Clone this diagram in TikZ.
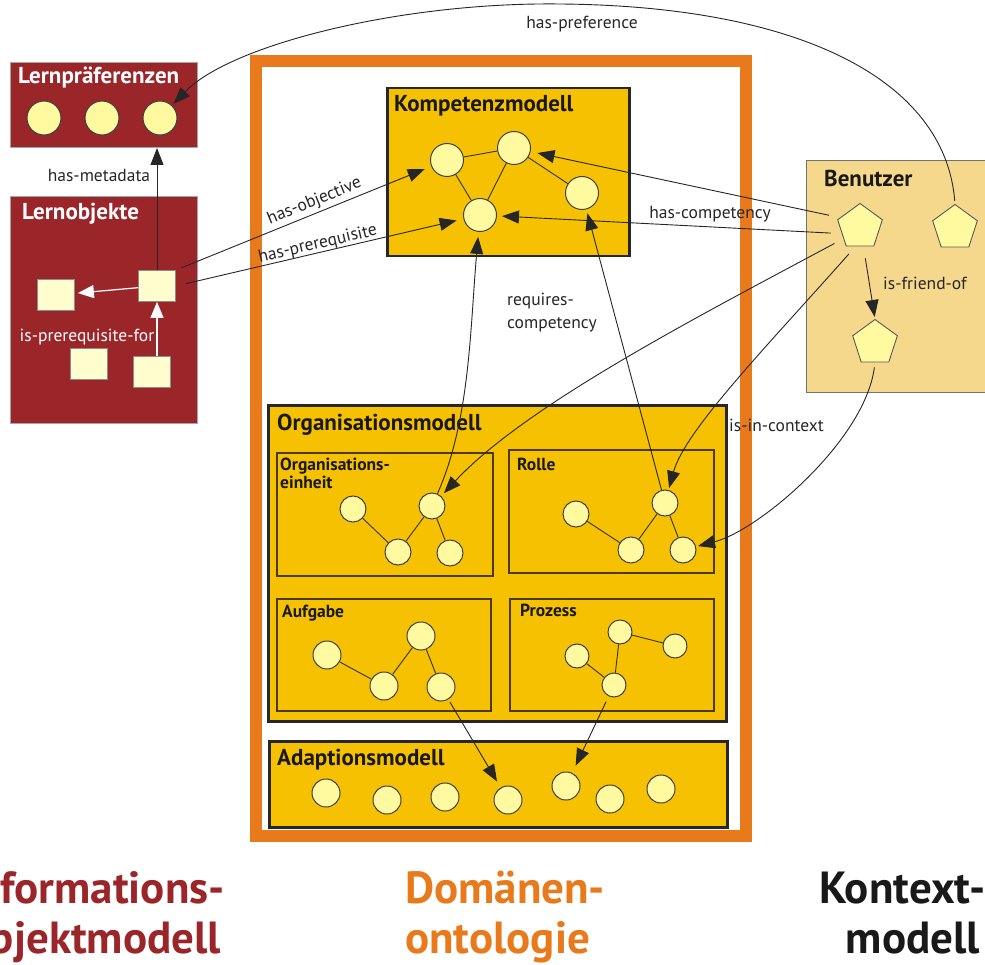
\documentclass[tikz,border=0pt]{standalone}
\usepackage{fontspec}
\setmainfont{PT Sans}
\usetikzlibrary{arrows.meta,shapes.geometric}

\definecolor{lomred}{RGB}{155,38,42}
\definecolor{domorange}{RGB}{232,122,28}
\definecolor{modelgold}{RGB}{246,193,0}
\definecolor{usertan}{RGB}{245,216,140}
\definecolor{dotfill}{RGB}{255,250,160}
\definecolor{sqfill}{RGB}{255,252,205}

\begin{document}
\begin{tikzpicture}[x=1pt, y=-1pt,
  lbl/.style={font=\fontsize{17.5}{20}\selectfont, inner sep=0pt, text=black!85},
  ttl/.style={font=\bfseries\fontsize{23}{26}\selectfont, anchor=base west, inner sep=0pt, text=black!90},
  subttl/.style={font=\bfseries\fontsize{17.5}{20}\selectfont, anchor=base west, inner sep=0pt, text=black!90},
  bigttl/.style={font=\bfseries\fontsize{45}{50}\selectfont, inner sep=0pt},
  ball/.style={circle, draw=black!75, line width=1pt, fill=dotfill, minimum size=#1, inner sep=0pt},
  ball/.default=26pt,
  pent/.style={regular polygon, regular polygon sides=5, minimum size=47pt, inner sep=0pt, draw=black!65, line width=0.9pt, fill=dotfill},
  sq/.style={rectangle, minimum width=37pt, minimum height=31pt, inner sep=0pt, draw=black!45, line width=0.8pt, fill=sqfill},
  panel/.style={rectangle, anchor=north west, inner sep=0pt},
  goldbox/.style={panel, fill=modelgold, draw=black!85, line width=2.5pt},
  subbox/.style={panel, draw=black!70!modelgold, line width=1.5pt},
  redbox/.style={panel, fill=lomred, draw=black!35, line width=1pt},
  link/.style={draw=black!80, line width=0.9pt},
  arr/.style={draw=black!85, line width=0.9pt, -{Triangle[length=17pt,width=13pt]}},
  warr/.style={draw=white, line width=1.2pt, -{Triangle[length=16pt,width=13pt,fill=white]}},
]
\useasboundingbox (0,0) rectangle (985,965);
\clip (0,0) rectangle (985,965);
\fill[white] (0,0) rectangle (985,965);

% domain ontology frame
\node[draw=domorange, line width=12pt, minimum width=490pt, minimum height=775pt, inner sep=0pt] (dom) at (501,448.5) {};

% learning preferences
\node[redbox, minimum width=187pt, minimum height=85pt] (lp) at (10,62) {};
\node[ttl, text=white] at (18,84) {Lernpräferenzen};
\node[ball=34pt] (lp1) at (44,118) {};
\node[ball=34pt] (lp2) at (102,118) {};
\node[ball=34pt] (lp3) at (160,118) {};

% learning objects
\node[redbox, minimum width=187pt, minimum height=227pt] (lo) at (10,196) {};
\node[ttl, text=white] at (22,220) {Lernobjekte};
\node[sq] (lo1) at (157,286) {};
\node[sq] (lo2) at (56,295) {};
\node[sq] (lo3) at (89,364) {};
\node[sq] (lo4) at (152,372) {};

% competency model
\node[goldbox, minimum width=242pt, minimum height=168pt] (km) at (386,87) {};
\node[ttl] at (394,112) {Kompetenzmodell};
\node[ball=33pt] (k1) at (447,160) {};
\node[ball=33pt] (k2) at (514,148) {};
\node[ball=33pt] (k3) at (480,215) {};
\node[ball=33pt] (k4) at (582,193) {};
\draw[link] (k1) -- (k2);
\draw[link] (k1) -- (k3);
\draw[link] (k2) -- (k3);
\draw[link] (k2) -- (k4);

% user
\node[panel, fill=usertan, draw=black!55, line width=1pt, minimum width=200pt, minimum height=232pt] (bz) at (806,160) {};
\node[ttl] at (824,187) {Benutzer};
\node[pent] (p1) at (860,227) {};
\node[pent] (p2) at (955,228) {};
\node[pent] (p3) at (875,343) {};

% organisation model
\node[goldbox, line width=3pt, minimum width=458pt, minimum height=316pt] (om) at (267,404) {};
\node[ttl] at (277,430) {Organisationsmodell};

\node[subbox, minimum width=216pt, minimum height=123pt] (oe) at (276,452) {};
\node[subttl] at (280,470) {Organisations-};
\node[subttl] at (280,488) {einheit};
\node[ball] (oe1) at (353,509) {};
\node[ball] (oe2) at (432,506) {};
\node[ball] (oe3) at (398,552) {};
\node[ball] (oe4) at (450,553) {};
\draw[link] (oe1) -- (oe3);
\draw[link] (oe3) -- (oe2);
\draw[link] (oe2) -- (oe4);

\node[subbox, minimum width=205pt, minimum height=123pt] (ro) at (508,449) {};
\node[subttl] at (517,470) {Rolle};
\node[ball] (r1) at (576,514) {};
\node[ball] (r2) at (665,503) {};
\node[ball] (r3) at (631,550) {};
\node[ball] (r4) at (683,550) {};
\draw[link] (r1) -- (r3);
\draw[link] (r3) -- (r2);
\draw[link] (r2) -- (r4);

\node[subbox, minimum width=214pt, minimum height=112pt] (au) at (276,598) {};
\node[subttl] at (282,617) {Aufgabe};
\node[ball=28pt] (a1) at (327,655) {};
\node[ball=28pt] (a2) at (421,636) {};
\node[ball=28pt] (a3) at (384,686) {};
\node[ball=28pt] (a4) at (441,687) {};
\draw[link] (a1) -- (a3);
\draw[link] (a3) -- (a2);
\draw[link] (a2) -- (a4);

\node[subbox, minimum width=204pt, minimum height=112pt] (pz) at (509,598) {};
\node[subttl] at (520,616) {Prozess};
\node[ball=24pt] (pz1) at (620,632) {};
\node[ball=24pt] (pz2) at (675,646) {};
\node[ball=24pt] (pz3) at (577,656) {};
\node[ball=24pt] (pz4) at (614,685) {};
\draw[link] (pz1) -- (pz2);
\draw[link] (pz1) -- (pz4);
\draw[link] (pz3) -- (pz4);

% adaptation model
\node[goldbox, minimum width=458pt, minimum height=86pt] (am) at (268,740) {};
\node[ttl] at (277,765) {Adaptionsmodell};
\node[ball=28pt] (ad1) at (326,793) {};
\node[ball=28pt] (ad2) at (387,800) {};
\node[ball=28pt] (ad3) at (445,797) {};
\node[ball=28pt] (ad4) at (508,800) {};
\node[ball=28pt] (ad5) at (566,786) {};
\node[ball=28pt] (ad6) at (610,799) {};
\node[ball=28pt] (ad7) at (661,789) {};

% relations of the learning objects
\draw[arr] (lo1.north) -- (lo1 |- lp.south);
\node[lbl] at (99,175) {has-metadata};
\draw[warr, shorten >=3pt] (lo1) -- (lo2);
\draw[warr] (lo4.north -| lo1) -- (lo1.south);
\node[lbl, text=white] at (87,337) {is-prerequisite-for};
\draw[arr, shorten <=6pt, shorten >=7pt] (lo1.north east) -- node[lbl, sloped, above=3pt, pos=0.56] {has-objective} (k1);
\draw[arr, shorten <=10pt, shorten >=7pt] (lo1.east) -- node[lbl, sloped, above=0pt, pos=0.5] {has-prerequisite} (k3);

% relations of the user
\draw[arr, shorten <=11pt, shorten >=7pt] (p1.155) -- (k2);
\draw[arr, shorten <=11pt, shorten >=5pt] (p1.200) -- (k3);
\node[lbl] at (710,214) {has-competency};
\draw[arr, shorten <=3pt, shorten >=2pt] (p2.north) .. controls (945,80) and (800,6) .. (560,4) .. controls (400,2) and (230,45) .. (lp3);
\node[lbl] at (582,24) {has-preference};
\draw[arr, shorten <=12pt, shorten >=2pt] (p1.280) -- (p3.north);
\node[lbl, anchor=west] at (883,283) {is-friend-of};
\draw[arr, shorten <=10pt, shorten >=4pt] (p1.215) .. controls (705,313) and (527,404) .. (oe2);
\draw[arr, shorten <=10pt, shorten >=2pt] (p1.257) .. controls (770,343) and (685,430) .. (r2);
\draw[arr, shorten <=5pt, shorten >=2pt] (p3.south) .. controls (865,440) and (760,530) .. (r4);
\node[lbl, anchor=west] at (729,425) {is-in-context};

% required competencies
\draw[arr, shorten >=5pt] (oe2) .. controls (470,420) and (470,330) .. (k3);
\draw[arr, shorten >=4pt] (r2) -- (k4);
\node[lbl, anchor=west] at (507,301) {requires-};
\node[lbl, anchor=west] at (507,325) {competency};

% into the adaptation model
\draw[arr, shorten <=3pt, shorten >=7pt] (a4) -- (ad4);
\draw[arr, shorten <=6pt, shorten >=8pt] (pz4) -- (ad5);

% column captions
\node[bigttl, text=lomred, anchor=base east] at (225,903) {Informations-};
\node[bigttl, text=lomred, anchor=base east] at (221,953) {objektmodell};
\node[bigttl, text=domorange, anchor=base west] at (405,903) {Domänen-};
\node[bigttl, text=domorange, anchor=base west] at (405,953) {ontologie};
\node[bigttl, text=black!90, anchor=base east] at (986,903) {Kontext-};
\node[bigttl, text=black!90, anchor=base east] at (980,953) {modell};
\end{tikzpicture}
\end{document}
